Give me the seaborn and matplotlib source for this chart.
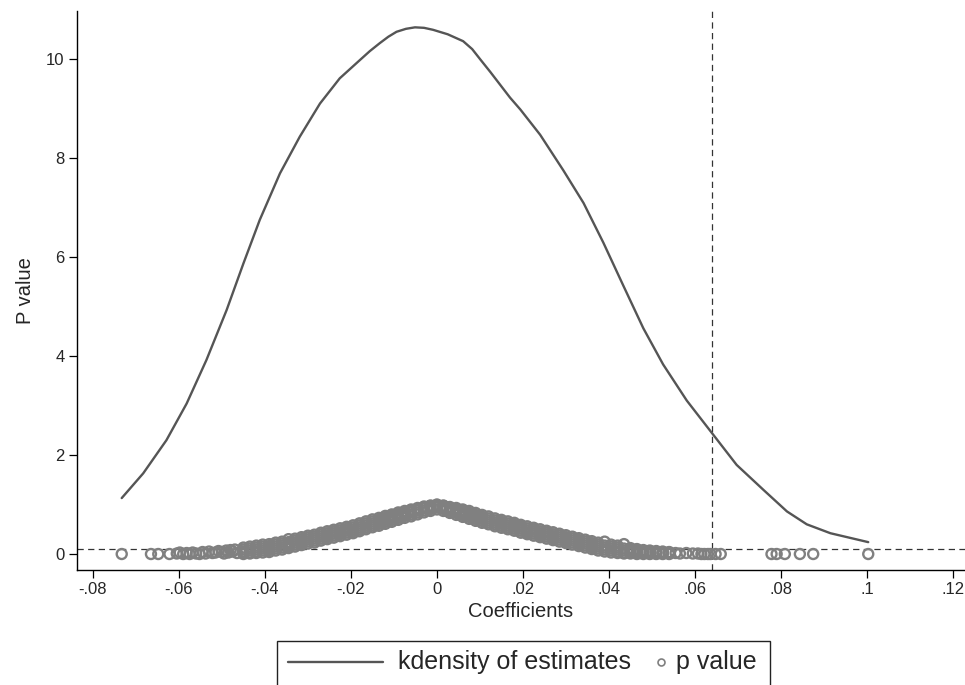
import matplotlib
matplotlib.use("Agg")
import matplotlib.pyplot as plt
import seaborn as sns
import pandas as pd
from matplotlib.lines import Line2D
from matplotlib.patches import Rectangle

# kernel density of the estimates
kde_x = [-0.0733, -0.0683, -0.0629, -0.0582, -0.0536, -0.0489, -0.0450, -0.0412,
         -0.0365, -0.0319, -0.0272, -0.0226, -0.0179, -0.0156, -0.0133, -0.0113,
         -0.0094, -0.0072, -0.0051, -0.0030, -0.0009, 0.0025, 0.0061, 0.0082,
         0.0101, 0.0124, 0.0147, 0.0170, 0.0194, 0.0240, 0.0294, 0.0341, 0.0387,
         0.0433, 0.0480, 0.0526, 0.0581, 0.0639, 0.0697, 0.0760, 0.0814, 0.0860,
         0.0915, 0.1003]
kde_y = [1.13, 1.63, 2.30, 3.04, 3.92, 4.93, 5.87, 6.75, 7.69, 8.43, 9.10, 9.61,
         9.98, 10.16, 10.32, 10.45, 10.55, 10.61, 10.64, 10.63, 10.59, 10.50,
         10.36, 10.20, 9.99, 9.74, 9.48, 9.22, 8.98, 8.47, 7.75, 7.09, 6.29, 5.43,
         4.56, 3.83, 3.10, 2.45, 1.80, 1.29, 0.86, 0.60, 0.42, 0.24]

# p values: isolated points in the tails
tail_left_coef = [-0.0733, -0.0665, -0.0648, -0.0622, -0.0605, -0.0598, -0.0590,
                  -0.0582, -0.0575, -0.0568, -0.0560, -0.0552, -0.0545, -0.0538,
                  -0.0530, -0.0522, -0.0515, -0.0508, -0.0500, -0.0495, -0.0490,
                  -0.0485, -0.0480, -0.0475, -0.0470, -0.0465]
tail_left_p = [0.0, 0.0, 0.0, 0.0, 0.01, 0.03, 0.0, 0.02, 0.0, 0.03, 0.01, 0.0,
               0.04, 0.01, 0.05, 0.02, 0.03, 0.06, 0.04, 0.01, 0.07, 0.03, 0.08,
               0.05, 0.09, 0.02]
tail_right_coef = [0.0555, 0.0565, 0.0580, 0.0595, 0.0607, 0.0615, 0.0622, 0.0630,
                   0.0636, 0.0648, 0.0660, 0.0778, 0.0790, 0.0809, 0.0844, 0.0875,
                   0.1003]
tail_right_p = [0.02, 0.01, 0.02, 0.01, 0.01, 0.0, 0.0, 0.0, 0.0, 0.0, 0.0, 0.0,
                0.0, 0.0, 0.0, 0.0, 0.0]

# p values: the dense band, several estimates per coefficient step
band_left_coef = [-0.0450, -0.0435, -0.0420, -0.0405, -0.0390, -0.0375, -0.0360,
                  -0.0345, -0.0330, -0.0315, -0.0300, -0.0285, -0.0270, -0.0255,
                  -0.0240, -0.0225, -0.0210, -0.0195, -0.0180, -0.0165, -0.0150,
                  -0.0135, -0.0120, -0.0105, -0.0090, -0.0075, -0.0060, -0.0045,
                  -0.0030, -0.0015, 0.0000]
band_left_p = [
    [0.13, 0.09, 0.05, 0.02, 0.00], [0.15, 0.11, 0.07, 0.03, 0.01],
    [0.17, 0.13, 0.09, 0.05, 0.02], [0.19, 0.15, 0.11, 0.07, 0.03],
    [0.20, 0.16, 0.12, 0.08, 0.04], [0.23, 0.19, 0.15, 0.11, 0.07],
    [0.25, 0.21, 0.17, 0.13, 0.09], [0.30, 0.24, 0.20, 0.16, 0.12],
    [0.31, 0.27, 0.23, 0.19, 0.15], [0.34, 0.30, 0.26, 0.22, 0.18],
    [0.37, 0.33, 0.29, 0.25, 0.21], [0.39, 0.35, 0.31, 0.27, 0.23],
    [0.43, 0.39, 0.35, 0.31, 0.27], [0.46, 0.42, 0.38, 0.34, 0.30],
    [0.49, 0.45, 0.41, 0.37, 0.33], [0.52, 0.48, 0.44, 0.40, 0.36],
    [0.55, 0.51, 0.47, 0.43, 0.39], [0.58, 0.54, 0.50, 0.46, 0.42],
    [0.62, 0.58, 0.54, 0.50, 0.46], [0.66, 0.62, 0.58, 0.54, 0.50],
    [0.70, 0.66, 0.62, 0.58, 0.54], [0.73, 0.69, 0.65, 0.61, 0.57],
    [0.77, 0.73, 0.69, 0.65, 0.61], [0.80, 0.77, 0.73, 0.69, 0.65],
    [0.84, 0.81, 0.77, 0.73, 0.69], [0.87, 0.84, 0.81, 0.77, 0.73],
    [0.90, 0.87, 0.84, 0.80, 0.76], [0.93, 0.91, 0.88, 0.84, 0.80],
    [0.96, 0.94, 0.92, 0.88, 0.84], [0.98, 0.97, 0.95, 0.91, 0.87],
    [1.00, 0.99, 0.97, 0.94, 0.90]]

band_right_coef = [0.0015, 0.0030, 0.0045, 0.0060, 0.0075, 0.0090, 0.0105, 0.0120,
                   0.0135, 0.0150, 0.0165, 0.0180, 0.0195, 0.0210, 0.0225, 0.0240,
                   0.0255, 0.0270, 0.0285, 0.0300, 0.0315, 0.0330, 0.0345, 0.0360,
                   0.0375, 0.0390, 0.0405, 0.0420, 0.0435, 0.0450, 0.0465, 0.0480,
                   0.0495, 0.0510, 0.0525, 0.0540]
band_right_p = [
    [0.98, 0.97, 0.95, 0.91, 0.87], [0.95, 0.93, 0.91, 0.87, 0.83],
    [0.93, 0.90, 0.87, 0.83, 0.79], [0.90, 0.87, 0.83, 0.79, 0.75],
    [0.87, 0.83, 0.79, 0.75, 0.71], [0.83, 0.79, 0.75, 0.71, 0.67],
    [0.79, 0.75, 0.71, 0.67, 0.63], [0.76, 0.72, 0.68, 0.64, 0.60],
    [0.72, 0.68, 0.64, 0.60, 0.56], [0.69, 0.65, 0.61, 0.57, 0.53],
    [0.66, 0.62, 0.58, 0.54, 0.50], [0.63, 0.59, 0.55, 0.51, 0.47],
    [0.59, 0.55, 0.51, 0.47, 0.43], [0.56, 0.52, 0.48, 0.44, 0.40],
    [0.53, 0.49, 0.45, 0.41, 0.37], [0.50, 0.46, 0.42, 0.38, 0.34],
    [0.47, 0.43, 0.39, 0.35, 0.31], [0.44, 0.40, 0.36, 0.32, 0.28],
    [0.41, 0.37, 0.33, 0.29, 0.25], [0.38, 0.34, 0.30, 0.26, 0.22],
    [0.35, 0.31, 0.27, 0.23, 0.19], [0.32, 0.28, 0.24, 0.20, 0.16],
    [0.29, 0.25, 0.21, 0.17, 0.13], [0.26, 0.22, 0.18, 0.14, 0.10],
    [0.23, 0.19, 0.15, 0.11, 0.07], [0.25, 0.17, 0.13, 0.09, 0.05],
    [0.19, 0.15, 0.11, 0.07, 0.03], [0.17, 0.13, 0.09, 0.05, 0.02],
    [0.20, 0.11, 0.07, 0.03, 0.01], [0.12, 0.09, 0.06, 0.03, 0.01],
    [0.10, 0.07, 0.05, 0.02, 0.00], [0.08, 0.06, 0.04, 0.02, 0.00],
    [0.07, 0.05, 0.03, 0.01, 0.00], [0.06, 0.04, 0.03, 0.01, 0.00],
    [0.05, 0.03, 0.02, 0.01, 0.00], [0.04, 0.03, 0.02, 0.01, 0.00]]

x_ticks = [-0.08, -0.06, -0.04, -0.02, 0, 0.02, 0.04, 0.06, 0.08, 0.1, 0.12]
x_tick_labels = ["-.08", "-.06", "-.04", "-.02", "0", ".02", ".04", ".06", ".08", ".1", ".12"]
y_ticks = [0, 2, 4, 6, 8, 10]
p_cut = 0.1
coef_cut = 0.064

line_col = "#555555"
dot_col = "#808080"

sns.set_style("white")
plt.rcParams["font.family"] = ["Liberation Sans", "DejaVu Sans"]

rows = list(zip(tail_left_coef, tail_left_p)) + list(zip(tail_right_coef, tail_right_p))
for xs, ps in [(band_left_coef, band_left_p), (band_right_coef, band_right_p)]:
    for c, group in zip(xs, ps):
        rows += [(c, p) for p in group]
pvals = pd.DataFrame(rows, columns=["coef", "p"])
kde = pd.DataFrame({"coef": kde_x, "dens": kde_y})

fig = plt.figure(figsize=(9.65, 6.85), dpi=100)
ax = fig.add_axes([77 / 965, 1 - 570 / 685, 1 - 77 / 965, (570 - 11) / 685])

ax.axhline(p_cut, color="#333333", lw=0.9, dashes=(5, 3.5), zorder=1)
ax.axvline(coef_cut, color="#333333", lw=0.9, dashes=(5, 3.5), zorder=1)

sns.lineplot(data=kde, x="coef", y="dens", sort=False, color=line_col, lw=1.7, ax=ax, zorder=3)
sns.scatterplot(data=pvals, x="coef", y="p", marker="o", s=52, ax=ax, zorder=2)
dots = ax.collections[-1]
dots.set_facecolor("none")
dots.set_edgecolor(dot_col)
dots.set_linewidth(1.7)

ax.set_xlim(-0.0837, 0.1228)
ax.set_ylim(-0.323, 10.97)
ax.set_xticks(x_ticks)
ax.set_xticklabels(x_tick_labels)
ax.set_yticks(y_ticks)
ax.set_yticklabels([str(v) for v in y_ticks])
ax.tick_params(axis="both", direction="out", length=6, width=0.9, color="black",
               labelsize=12, pad=3, left=True, bottom=True)
for side in ["top", "right"]:
    ax.spines[side].set_visible(False)
for side in ["left", "bottom"]:
    ax.spines[side].set_color("black")
    ax.spines[side].set_linewidth(1.0)

ax.set_xlabel("Coefficients", fontsize=14.5, labelpad=3)
ax.set_ylabel("P value", fontsize=14.5, labelpad=8)

# Stata-style legend below the plot
W, H = 965, 685
fig.add_artist(Rectangle((277 / W, 1 - 705 / H), (770 - 277) / W, 64 / H,
                         transform=fig.transFigure, fill=False, ec="#222222", lw=1.0))
fig.add_artist(Line2D([288 / W, 383 / W], [1 - 662 / H, 1 - 662 / H],
                      transform=fig.transFigure, color=line_col, lw=1.7))
fig.text(398 / W, 1 - 662 / H, "kdensity of estimates", fontsize=18, va="center", ha="left")
fig.add_artist(Line2D([661 / W], [1 - 662 / H], transform=fig.transFigure, marker="o",
                      ms=5, mfc="none", mec=dot_col, mew=1.2, ls="none"))
fig.text(676 / W, 1 - 662 / H, "p value", fontsize=18, va="center", ha="left")

fig.savefig("out.png", dpi=100)
